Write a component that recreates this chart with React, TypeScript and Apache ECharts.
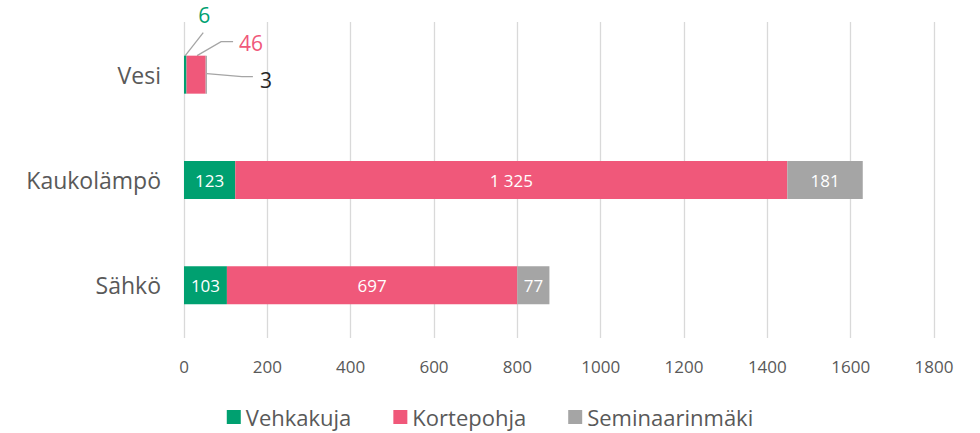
import React, { useEffect, useRef } from "react";
import * as echarts from "echarts";

const categories = ["Sähkö", "Kaukolämpö", "Vesi"];
const seriesNames = ["Vehkakuja", "Kortepohja", "Seminaarinmäki"];
const vehkakuja = [103, 123, 6];
const kortepohja = [697, 1325, 46];
const seminaarinmaki = [77, 181, 3];
const colors = ["#00A070", "#F0587A", "#A5A5A5"];
const xTicks = { min: 0, max: 1800, interval: 200 };

const FONT = "'Open Sans', 'Noto Sans', sans-serif";

export default function App() {
  const ref = useRef<HTMLDivElement>(null);
  useEffect(() => {
    document.body.style.margin = "0";
    if (!ref.current) return;
    const chart = echarts.init(ref.current, undefined, { renderer: "svg" });
    const data = [vehkakuja, kortepohja, seminaarinmaki];
    const lastIdx = categories.length - 1;
    chart.setOption({
      animation: false,
      textStyle: { fontFamily: FONT },
      grid: { left: 184, right: 46, top: 22, bottom: 95, containLabel: false },
      legend: {
        bottom: 0,
        left: "center",
        itemWidth: 14,
        itemHeight: 14,
        itemGap: 42,
        icon: "rect",
        textStyle: { fontSize: 22, color: "#595959", fontFamily: FONT },
        data: seriesNames,
      },
      xAxis: {
        type: "value",
        min: xTicks.min,
        max: xTicks.max,
        interval: xTicks.interval,
        axisLine: { show: false },
        axisTick: { show: false },
        axisLabel: {
          fontSize: 17,
          color: "#595959",
          margin: 20,
          formatter: (v: number) => String(v),
        },
        splitLine: { lineStyle: { color: "#D9D9D9", width: 1.3 } },
      },
      yAxis: {
        type: "category",
        data: categories,
        axisLine: { show: false },
        axisTick: { show: false },
        axisLabel: { fontSize: 23, color: "#595959", margin: 23 },
      },
      series: seriesNames.map((name, si) => ({
        name,
        type: "bar",
        stack: "total",
        barWidth: 38,
        itemStyle: { color: colors[si] },
        data: data[si].map((v, i) => ({
          value: v,
          label: { show: i !== lastIdx },
        })),
        label: {
          show: true,
          position: "inside",
          color: "#FFFFFF",
          fontSize: 17,
          fontFamily: FONT,
          formatter: (p: any) =>
            String(p.value).replace(/\B(?=(\d{3})+(?!\d))/g, " "),
        },
      })),
    });

    // Callout labels for the small "Vesi" bars
    const cat = categories[lastIdx];
    const v0 = vehkakuja[lastIdx];
    const v1 = kortepohja[lastIdx];
    const v2 = seminaarinmaki[lastIdx];
    const p = (x: number) => chart.convertToPixel({ gridIndex: 0 }, [x, cat]) as number[];
    const c0 = p(v0 / 2);
    const c1 = p(v0 + v1 / 2);
    const c2 = p(v0 + v1 + v2);
    const top = c0[1] - 19;
    const lc = "#A5A5A5";
    const elements: any[] = [
      { type: "polyline", shape: { points: [[c0[0], top], [c0[0] + 18, top - 23]] }, style: { stroke: lc, lineWidth: 1.3, fill: "none" } },
      { type: "text", x: c0[0] + 19, y: top - 41, style: { text: String(v0), fill: colors[0], fontSize: 21, fontFamily: FONT, textAlign: "center", textVerticalAlign: "middle" } },
      { type: "polyline", shape: { points: [[c1[0] + 1, top], [c1[0] + 25, top - 14], [c1[0] + 37, top - 14]] }, style: { stroke: lc, lineWidth: 1.3, fill: "none" } },
      { type: "text", x: c1[0] + 43, y: top - 13, style: { text: String(v1), fill: colors[1], fontSize: 21, fontFamily: FONT, textAlign: "left", textVerticalAlign: "middle" } },
      { type: "polyline", shape: { points: [[c2[0], c2[1] - 1], [c2[0] + 35, c2[1] + 2], [c2[0] + 46, c2[1] + 2]] }, style: { stroke: lc, lineWidth: 1.3, fill: "none" } },
      { type: "text", x: c2[0] + 53, y: c2[1] + 5, style: { text: String(v2), fill: "#262626", fontSize: 21, fontFamily: FONT, textAlign: "left", textVerticalAlign: "middle" } },
    ];
    chart.setOption({ graphic: { elements } });

    return () => chart.dispose();
  }, []);
  return <div ref={ref} style={{ width: 980, height: 433 }} />;
}
